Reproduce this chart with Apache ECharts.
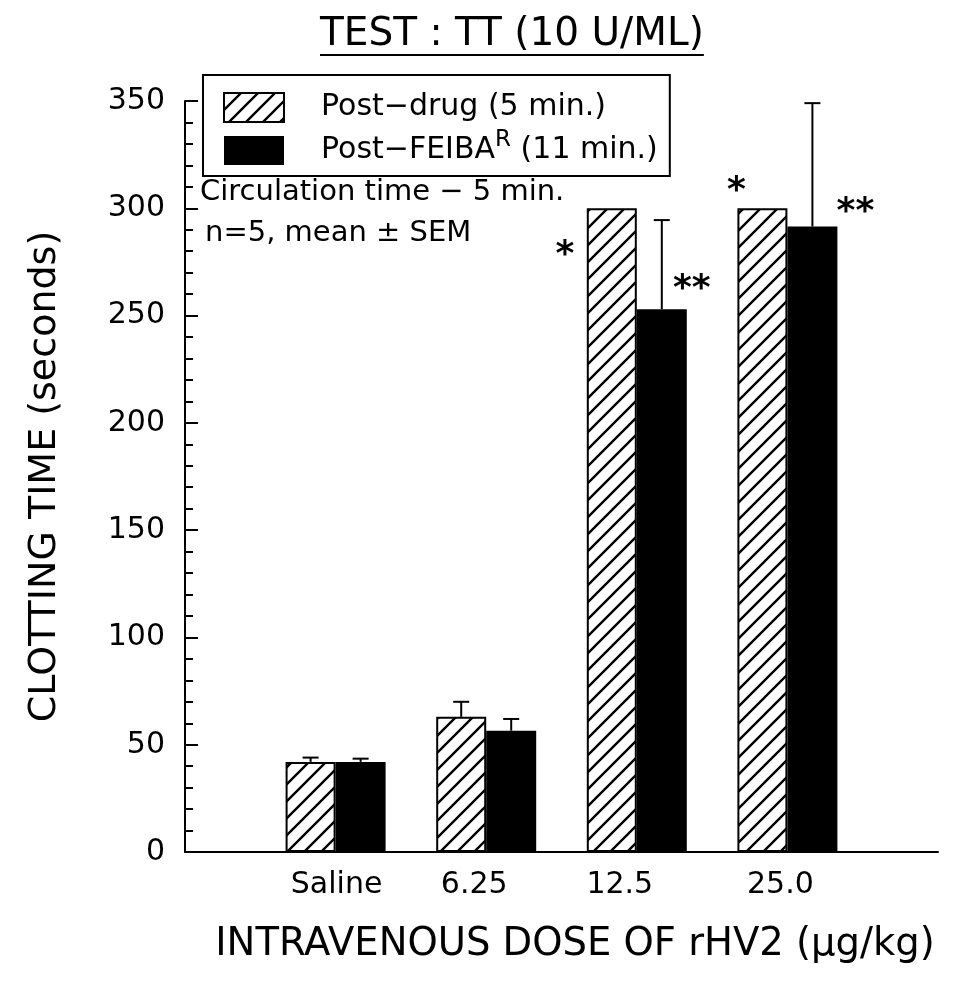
<!DOCTYPE html>
<html>
<head>
<meta charset="utf-8">
<script src="https://cdn.jsdelivr.net/npm/echarts@6/dist/echarts.min.js"></script>
<style>
  html, body { margin: 0; padding: 0; background: #fff; }
  #chart { width: 953px; height: 985px; }
</style>
</head>
<body>
<div id="chart"></div>
<script>
// Thrombin time after rHV2 dosing, then after FEIBA
const doses = ['Saline', '6.25', '12.5', '25.0'];
const postDrug = [42, 63, 300, 300];
const postDrugSem = [2, 7, null, null];
const postFeiba = [42, 56.5, 253, 291.5];
const postFeibaSem = [1.5, 5.5, 41.5, 57.5];
const significance = [
  { dose: '12.5', group: 0, text: '*' },
  { dose: '12.5', group: 1, text: '**' },
  { dose: '25.0', group: 0, text: '*' },
  { dose: '25.0', group: 1, text: '**' }
];
const seriesNames = ['Post\u2212drug (5 min.)', 'Post\u2212FEIBA (11 min.)'];

const FONT = 'DejaVu Sans';
const BAR_W = 50;

// x axis: one empty slot on each side of the four doses
const categories = [''].concat(doses, ['']);
const pad = arr => [null].concat(arr, [null]);

// diagonal hatch fill
function hatch() {
  const s = 17;
  const c = document.createElement('canvas');
  c.width = s; c.height = s;
  const g = c.getContext('2d');
  g.fillStyle = '#fff';
  g.fillRect(0, 0, s, s);
  g.strokeStyle = '#000';
  g.lineWidth = 2.4;
  g.beginPath();
  g.moveTo(0, s); g.lineTo(s, 0);
  g.moveTo(-s / 2, s / 2); g.lineTo(s / 2, -s / 2);
  g.moveTo(s / 2, s * 1.5); g.lineTo(s * 1.5, s / 2);
  g.stroke();
  return c;
}
const hatchFill = { image: hatch(), repeat: 'repeat' };

// error bar items: [category index, mean, sem, group]
const errData = [];
doses.forEach((d, i) => {
  if (postDrugSem[i] != null) errData.push([i + 1, postDrug[i], postDrugSem[i], 0]);
  if (postFeibaSem[i] != null) errData.push([i + 1, postFeiba[i], postFeibaSem[i], 1]);
});

// significance marks: [category index, bar value, group, text]
const sigData = significance.map(s => {
  const i = doses.indexOf(s.dose);
  return [i + 1, s.group === 0 ? postDrug[i] : postFeiba[i], s.group, s.text];
});
// pixel placement of each mark relative to its bar top
const sigOffset = {
  '12.5|0': [-47, 47], '12.5|1': [30, -19],
  '25.0|0': [-26, -17], '25.0|1': [43, -14]
};

// small horizontal nudges for the dose labels
const labelShift = { 'Saline': 1, '6.25': -12, '12.5': -17, '25.0': -7 };

const titleText = 'TEST : TT (10 U/ML)';
const titleFont = '39px "' + FONT + '"';
const mctx = document.createElement('canvas').getContext('2d');
mctx.font = titleFont;
const titleW = mctx.measureText(titleText).width;
const titleLeft = 320;

const chart = echarts.init(document.getElementById('chart'), null, { renderer: 'canvas' });

const labelRich = {};
const labelKey = v => {
  const s = labelShift[v] || 0;
  return 't' + (s < 0 ? 'l' : 'r') + Math.abs(s);
};
doses.forEach(d => {
  const s = labelShift[d] || 0;
  labelRich[labelKey(d)] = {
    fontFamily: FONT, fontSize: 30, color: '#000',
    padding: [0, s < 0 ? -2 * s : 0, 0, s > 0 ? 2 * s : 0]
  };
});

const option = {
  animation: false,
  backgroundColor: '#fff',
  textStyle: { fontFamily: FONT, color: '#000' },
  grid: { left: 185, right: 15, top: 101, bottom: 133, containLabel: false },
  legend: {
    data: seriesNames,
    left: 203, top: 75,
    orient: 'vertical',
    icon: 'rect',
    itemWidth: 60, itemHeight: 29, itemGap: 6,
    padding: [17, 12, 11, 20],
    borderColor: '#000', borderWidth: 2,
    selectedMode: false,
    formatter: name => {
      if (name.indexOf('FEIBA') >= 0) {
        return '{a|Post\u2212FEIBA}{sup|R}{b| (11 min.)}';
      }
      return '{a|' + name + '}';
    },
    textStyle: {
      fontFamily: FONT, fontSize: 30, color: '#000',
      rich: {
        a: { fontFamily: FONT, fontSize: 30, color: '#000', padding: [0, 0, 0, 32], verticalAlign: 'bottom', lineHeight: 29 },
        b: { fontFamily: FONT, fontSize: 30, color: '#000', verticalAlign: 'bottom', lineHeight: 29 },
        sup: { fontFamily: FONT, fontSize: 23, color: '#000', verticalAlign: 'bottom', lineHeight: 16, padding: [0, 0, 13, 0] }
      }
    }
  },
  xAxis: {
    type: 'category',
    data: categories,
    boundaryGap: false,
    axisLine: { lineStyle: { color: '#000', width: 2 } },
    axisTick: { show: false },
    splitLine: { show: false },
    axisLabel: {
      margin: 18,
      fontFamily: FONT, fontSize: 30, color: '#000',
      interval: 0,
      formatter: v => (v ? '{' + labelKey(v) + '|' + v + '}' : ''),
      rich: labelRich
    },
    name: 'INTRAVENOUS DOSE OF rHV2 (\u03bcg/kg)',
    nameLocation: 'middle',
    nameGap: 73,
    nameTextStyle: { fontFamily: FONT, fontSize: 38.5, color: '#000', padding: [0, 0, 0, 27] }
  },
  yAxis: {
    type: 'value',
    min: 0, max: 350, interval: 50,
    axisLine: { show: true, lineStyle: { color: '#000', width: 2 } },
    axisTick: { show: true, inside: true, length: 13, lineStyle: { color: '#000', width: 2 } },
    minorTick: { show: true, splitNumber: 5, length: 8, lineStyle: { color: '#000', width: 2 } },
    splitLine: { show: false },
    axisLabel: { margin: 20, fontFamily: FONT, fontSize: 30, color: '#000' },
    name: 'CLOTTING TIME (seconds)',
    nameLocation: 'middle',
    nameGap: 121,
    nameTextStyle: { fontFamily: FONT, fontSize: 38, color: '#000' }
  },
  series: [
    {
      name: seriesNames[0],
      type: 'bar',
      data: pad(postDrug),
      barWidth: BAR_W,
      barGap: '0%',
      itemStyle: { color: hatchFill, borderColor: '#000', borderWidth: 2 },
      z: 2
    },
    {
      name: seriesNames[1],
      type: 'bar',
      data: pad(postFeiba),
      barWidth: BAR_W,
      barGap: '0%',
      itemStyle: { color: '#000', borderColor: '#000', borderWidth: 0 },
      z: 2
    },
    {
      // upper SEM whiskers
      type: 'custom',
      data: errData,
      z: 3,
      renderItem: (params, api) => {
        const idx = api.value(0);
        const base = api.coord([idx, api.value(1)]);
        const top = api.coord([idx, api.value(1) + api.value(2)]);
        const x = base[0] + (api.value(3) === 0 ? -BAR_W / 2 : BAR_W / 2);
        const st = { stroke: '#000', lineWidth: 2 };
        return {
          type: 'group',
          children: [
            { type: 'line', shape: { x1: x, y1: base[1], x2: x, y2: top[1] }, style: st },
            { type: 'line', shape: { x1: x - 8, y1: top[1], x2: x + 8, y2: top[1] }, style: st }
          ]
        };
      }
    },
    {
      // significance asterisks
      type: 'custom',
      data: sigData,
      z: 4,
      renderItem: (params, api) => {
        const idx = api.value(0);
        const item = sigData[params.dataIndex];
        const p = api.coord([idx, item[1]]);
        const off = sigOffset[doses[idx - 1] + '|' + item[2]] || [0, 0];
        const cx = p[0] + (item[2] === 0 ? -BAR_W / 2 : BAR_W / 2) + off[0];
        return {
          type: 'text',
          x: cx, y: p[1] + off[1],
          style: {
            text: item[3],
            fontFamily: FONT, fontSize: 36, fontWeight: 'bold', fill: '#000',
            align: 'center', verticalAlign: 'middle'
          }
        };
      }
    }
  ],
  graphic: [
    {
      type: 'text', left: titleLeft, top: 15,
      style: { text: titleText, font: titleFont, fill: '#000' }
    },
    {
      type: 'line', shape: { x1: titleLeft, y1: 55, x2: titleLeft + titleW, y2: 55 },
      style: { stroke: '#000', lineWidth: 2 }
    },
    {
      type: 'text', left: 200, top: 178,
      style: { text: 'Circulation time \u2212 5 min.', fontFamily: FONT, fontSize: 29, fill: '#000' }
    },
    {
      type: 'text', left: 205, top: 219,
      style: { text: 'n=5, mean \u00b1 SEM', fontFamily: FONT, fontSize: 29, fill: '#000' }
    }
  ]
};

chart.setOption(option);
</script>
</body>
</html>
